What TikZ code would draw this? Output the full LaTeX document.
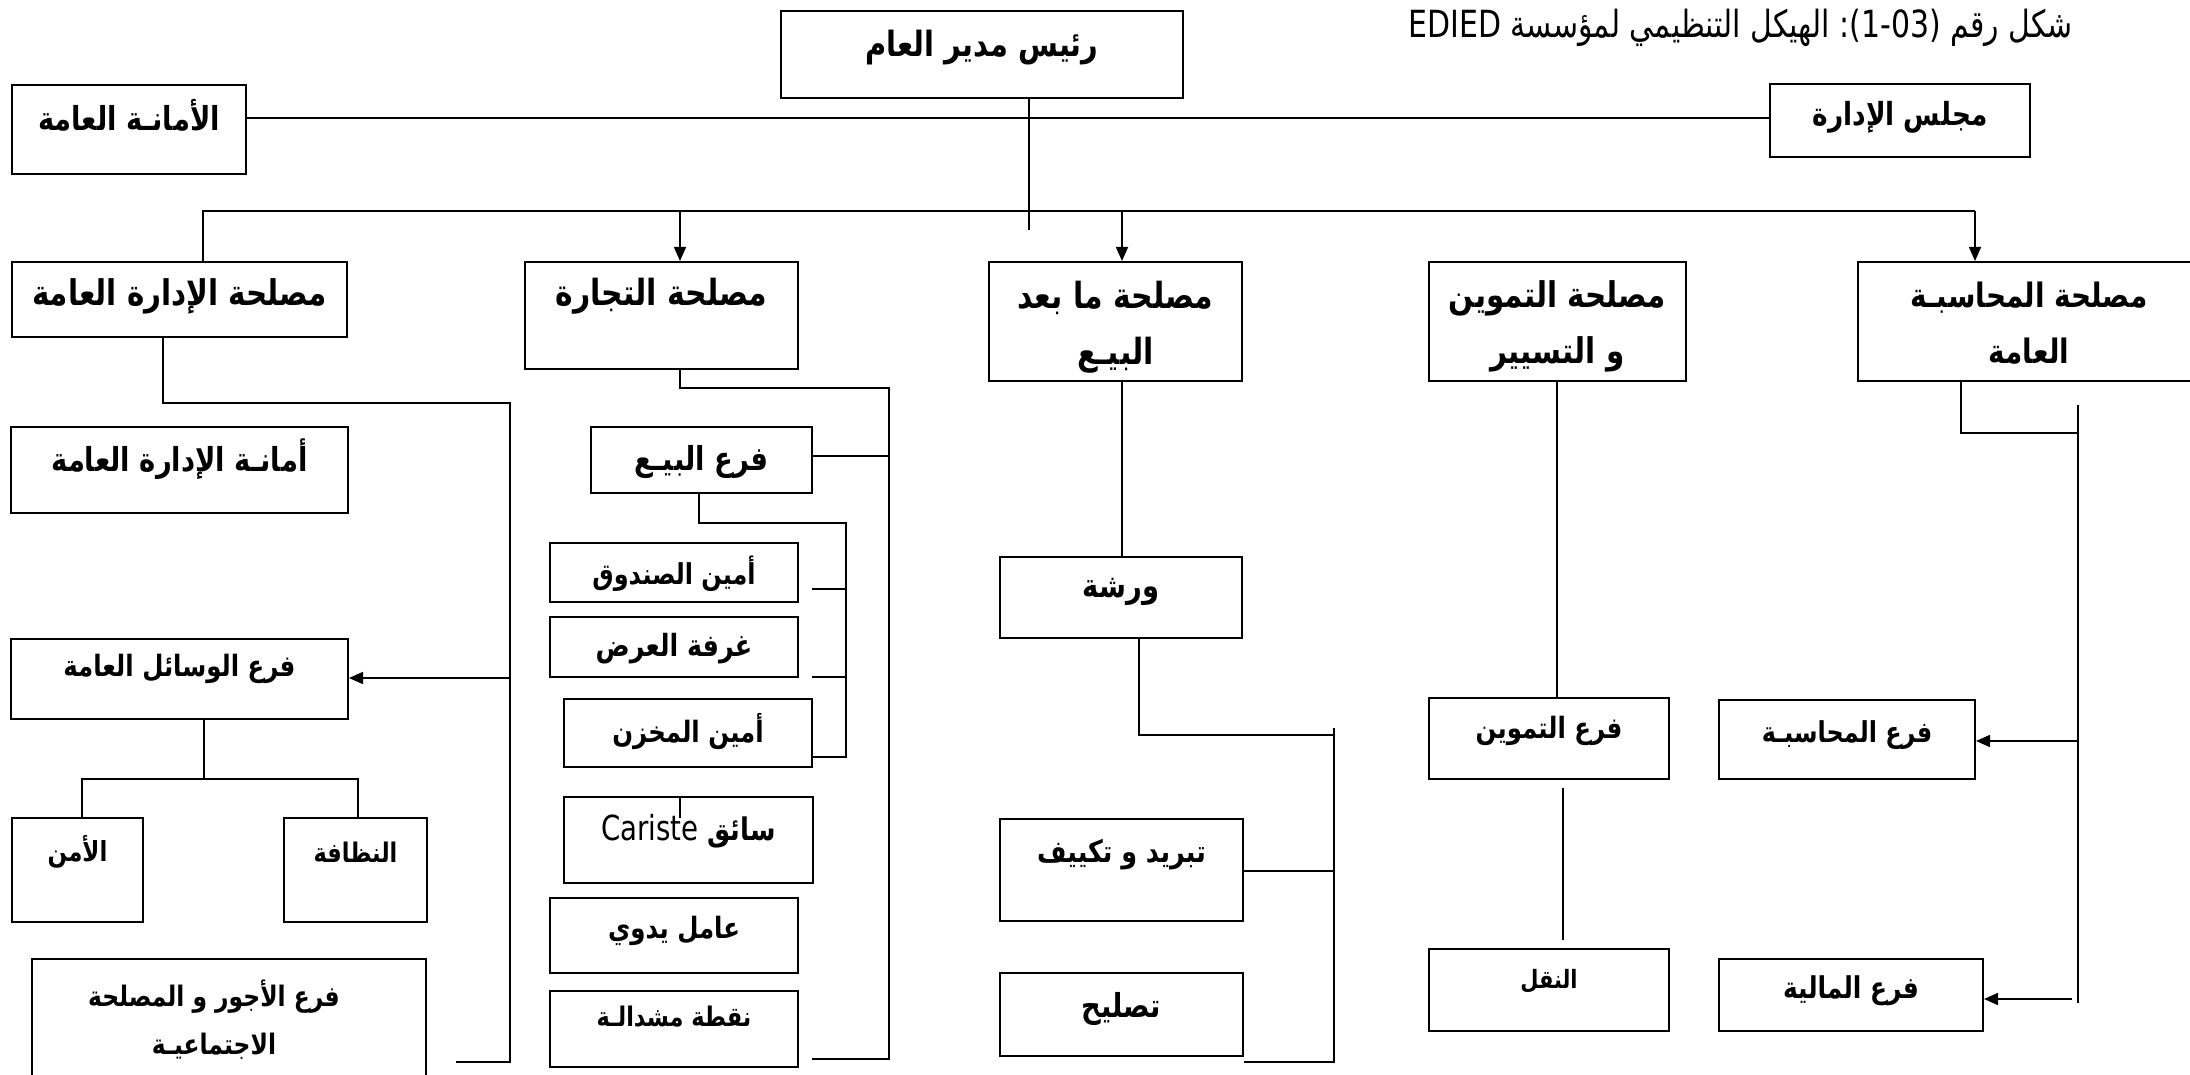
\documentclass[tikz,border=0pt]{standalone}
\usepackage{fontspec}
\usetikzlibrary{arrows.meta,calc}
\TeXXeTstate=1
\newfontfamily\arb[Script=Arabic,FakeStretch=0.83]{DejaVu Sans}
\newfontfamily\arbn[Script=Arabic,FakeStretch=0.8]{DejaVu Sans}
\newfontfamily\latn[FakeStretch=0.8]{DejaVu Sans}
\newcommand\rl[1]{\beginR #1\endR}

\tikzset{
  box/.style={draw, line width=2pt, inner sep=0pt},
  lbl/.style={font=\arb\bfseries\fontsize{31}{56}\selectfont, align=center, inner sep=0pt},
  sz/.style={font=\arb\bfseries\fontsize{#1}{56}\selectfont},
  con/.style={line width=1.6pt},
  arr/.style={con, -{Triangle[length=14pt,width=12pt]}},
}

% #1 extra text options, #2 name, #3 x1, #4 y1, #5 x2, #6 y2, #7 text y, #8 text
\newcommand\orgbox[8][]{%
  \node[box, minimum width={(#5-#3)*1pt}, minimum height={(#6-#4)*1pt}] (#2) at ({(#3+#5)/2},{(#4+#6)/2}) {};
  \node[lbl,#1] (#2-t) at ({(#3+#5)/2},#7) {#8};
}

\begin{document}
\begin{tikzpicture}[x=1pt,y=-1pt]
\useasboundingbox (0,0) rectangle (2190,1075);
\fill[white] (0,0) rectangle (2190,1075);
\clip (0,0) rectangle (2190,1075);

% caption
\node[anchor=east, inner sep=0pt, font=\arbn\fontsize{37.4}{44}\selectfont] (caption) at (2073,28)
  {\rl{شكل رقم {\latn :(1-03)} الهيكل التنظيمي لمؤسسة {\latn EDIED}}};

% top level
\orgbox[sz=34.8]{ceo}{781}{11}{1183}{98}{48}{\rl{رئيس مدير العام}}
\orgbox[sz=33]{sec}{12}{85}{246}{174}{115}{\rl{الأمانـة العامة}}
\orgbox[sz=31.8]{board}{1770}{84}{2030}{157}{117}{\rl{مجلس الإدارة}}

% departments
\orgbox[sz=35.4]{admin}{12}{262}{347}{337}{296}{\rl{مصلحة الإدارة العامة}}
\orgbox[sz=36]{trade}{525}{262}{798}{369}{296}{\rl{مصلحة التجارة}}
\orgbox[sz=36]{after}{989}{262}{1242}{381}{327}{\rl{مصلحة ما بعد}\\\rl{البيـع}}
\orgbox[sz=35.4]{supply}{1429}{262}{1686}{381}{326}{\rl{مصلحة التموين}\\\rl{و التسيير}}
\orgbox[sz=33.6]{acct}{1858}{262}{2200}{381}{323}{\rl{مصلحة المحاسبـة}\\\rl{العامة}}

% general administration
\orgbox[sz=33]{secadm}{11}{427}{348}{513}{459}{\rl{أمانـة الإدارة العامة}}
\orgbox[sz=29.4]{means}{11}{639}{348}{719}{669}{\rl{فرع الوسائل العامة}}
\orgbox[sz=27.6]{guard}{12}{818}{143}{922}{852}{\rl{الأمن}}
\orgbox[sz=27]{clean}{284}{818}{427}{922}{852}{\rl{النظافة}}
\orgbox[xshift=-15pt, font=\arb\bfseries\fontsize{28.2}{48}\selectfont]{wages}{32}{959}{426}{1100}{1020}{\rl{فرع الأجور و المصلحة}\\\rl{الاجتماعيـة}}

% commerce
\orgbox[sz=33]{sales}{591}{427}{812}{493}{462}{\rl{فرع البيـع}}
\orgbox[sz=28.8]{cashier}{550}{543}{798}{602}{574}{\rl{أمين الصندوق}}
\orgbox[sz=30.6]{showroom}{550}{617}{798}{677}{649}{\rl{غرفة العرض}}
\orgbox[sz=29.4]{store}{564}{699}{812}{767}{731}{\rl{أمين المخزن}}
\orgbox[sz=31.2]{cariste}{564}{797}{813}{883}{831}{\rl{سائق {\latn\mdseries\fontsize{34.5}{40}\selectfont Cariste}}}
\orgbox[sz=29.4]{manual}{550}{898}{798}{973}{931}{\rl{عامل يدوي}}
\orgbox[sz=27]{point}{550}{991}{798}{1067}{1017}{\rl{نقطة مشدالـة}}

% after-sales
\orgbox[sz=33]{workshop}{1000}{557}{1242}{638}{592}{\rl{ورشة}}
\orgbox[sz=30.6]{cool}{1000}{819}{1243}{921}{855}{\rl{تبريد و تكييف}}
\orgbox[sz=33]{repair}{1000}{973}{1243}{1056}{1009}{\rl{تصليح}}

% supply
\orgbox[sz=29.4]{supbr}{1429}{698}{1669}{779}{731}{\rl{فرع التموين}}
\orgbox[sz=25.2]{transport}{1429}{949}{1669}{1031}{981}{\rl{النقل}}

% accounting
\orgbox[sz=28.8]{acbr}{1719}{700}{1975}{779}{735}{\rl{فرع المحاسبـة}}
\orgbox[sz=30]{fin}{1719}{959}{1983}{1031}{991}{\rl{فرع المالية}}

% ---- connectors ----
\draw[con] (sec.east |- 0,118) -- (board.west |- 0,118);
\draw[con] (ceo.south -| 1029,0) -- (1029,230);
\draw[con] (admin.north -| 203,0) -- (203,211) -- (1975,211);
\draw[arr] (680,211) -- (trade.north -| 680,0);
\draw[arr] (1122,211) -- (after.north -| 1122,0);
\draw[arr] (1975,211) -- (acct.north -| 1975,0);

% general administration
\draw[con] (admin.south -| 163,0) -- (163,403) -- (510,403) -- (510,1062) -- (456,1062);
\draw[arr] (510,678) -- (means.east |- 0,678);
\draw[con] (means.south -| 204,0) -- (204,779) -- (82,779) -- (guard.north -| 82,0);
\draw[con] (204,779) -- (358,779) -- (clean.north -| 358,0);

% commerce
\draw[con] (trade.south -| 680,0) -- (680,388) -- (889,388) -- (889,1059) -- (812,1059);
\draw[con] (889,456) -- (sales.east |- 0,456);
\draw[con] (sales.south -| 699,0) -- (699,523) -- (846,523) -- (846,757) -- (store.east |- 0,757);
\draw[con] (846,589) -- (812,589);
\draw[con] (846,677) -- (812,677);
\draw[con] (cariste.north -| 680,0) -- (680,818);

% after-sales
\draw[con] (after.south -| 1122,0) -- (workshop.north -| 1122,0);
\draw[con] (workshop.south -| 1139,0) -- (1139,735) -- (1334,735);
\draw[con] (1334,728) -- (1334,1062) -- (repair.east |- 0,1062);
\draw[con] (cool.east |- 0,871) -- (1334,871);

% supply
\draw[con] (supply.south -| 1557,0) -- (supbr.north -| 1557,0);
\draw[con] ($(supbr.south -| 1563,0)+(0,8)$) -- ($(transport.north -| 1563,0)+(0,-8)$);

% accounting
\draw[con] (acct.south -| 1961,0) -- (1961,433) -- (2078,433);
\draw[con] (2078,405) -- (2078,1003);
\draw[arr] (2078,741) -- (acbr.east |- 0,741);
\draw[arr] (2072,999) -- (fin.east |- 0,999);
\end{tikzpicture}
\end{document}
